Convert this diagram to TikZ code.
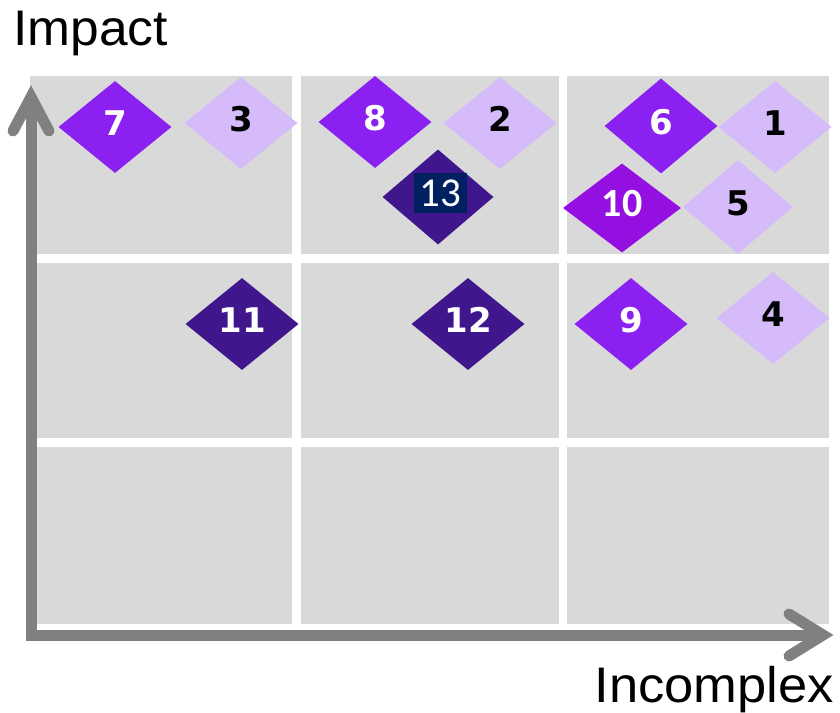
\documentclass[tikz,border=0pt]{standalone}
\usepackage{fontspec}
\setmainfont{Liberation Sans}
\newfontfamily\digitfont{DejaVu Sans}
\newfontfamily\calfont{Carlito}
\usetikzlibrary{shapes.geometric,calc}
\definecolor{cellgray}{HTML}{D9D9D9}
\definecolor{axisgray}{HTML}{808080}
\definecolor{lavender}{HTML}{D6BBFA}
\definecolor{midviolet}{HTML}{8A21F0}
\definecolor{brightviolet}{HTML}{9410E0}
\definecolor{deepviolet}{HTML}{40168C}
\definecolor{navybox}{HTML}{002060}

\begin{document}
\begin{tikzpicture}[x=1pt,y=-1pt,cell/.style={fill=cellgray},axis/.style={draw=axisgray,line width=11pt,line join=miter},title/.style={inner sep=0pt,font=\fontsize{50}{60}\selectfont},gem/.style={diamond,inner sep=0pt,minimum width=113pt,minimum height=92pt,text height=25pt,text depth=8pt,font=\digitfont\bfseries\fontsize{34}{34}\selectfont},lite/.style={gem,fill=lavender,text=black},mid/.style={gem,fill=midviolet,text=white},deep/.style={gem,fill=deepviolet,text=white}]
\useasboundingbox (0,0) rectangle (840,712);
% grid of cells
\foreach \xa/\xb in {30/292,301/559,567/829}
  \foreach \ya/\yb in {76/254,263/438,447/624}
    \fill[cell] (\xa,\ya) rectangle (\xb,\yb);
% axes
\coordinate (o) at (31,635); \coordinate (ytip) at (31,97); \coordinate (xtip) at (823,635);
\draw[axis] (ytip) -- (o) -- (xtip);
\draw[axis,line cap=round] ($(ytip)+(-18,34)$) -- (ytip) -- ($(ytip)+(18,34)$);
\draw[axis,line cap=round] ($(xtip)+(-34,-21)$) -- (xtip) -- ($(xtip)+(-34,21)$);
\node[title,anchor=base west] (impact) at (13,45) {\scalebox{1.03}[1]{Impact}};
\node[title,anchor=base east] (incomplex) at (834,702) {\scalebox{1.05}[1]{Incomplex}};
% items
\node[mid] (d7) at (115,127) {7}; \node[lite] (d3) at (241,123) {3};
\node[mid] (d8) at (375,122) {8}; \node[lite] (d2) at (500,123) {2};
\node[deep,minimum width=111pt,minimum height=95pt] (d13) at (438,197) {};
\node[fill=navybox,text=white,inner sep=0pt,minimum width=53pt,minimum height=40pt,font=\calfont\fontsize{41}{41}\selectfont] (tag13) at (440,193) {13};
\node[mid,minimum height=95pt] (d6) at (661,126) {6}; \node[lite] (d1) at (775,127) {1};
\node[gem,fill=brightviolet,text=white,minimum width=118pt,minimum height=89pt,font=\calfont\bfseries\fontsize{40}{40}\selectfont] (d10) at (622,208) {10};
\node[lite,minimum width=110pt,minimum height=94pt] (d5) at (738,207) {5};
\node[deep] (d11) at (242,324) {11}; \node[deep] (d12) at (468,324) {12};
\node[mid] (d9) at (631,324) {9}; \node[lite] (d4) at (773,318) {4};
\end{tikzpicture}
\end{document}
